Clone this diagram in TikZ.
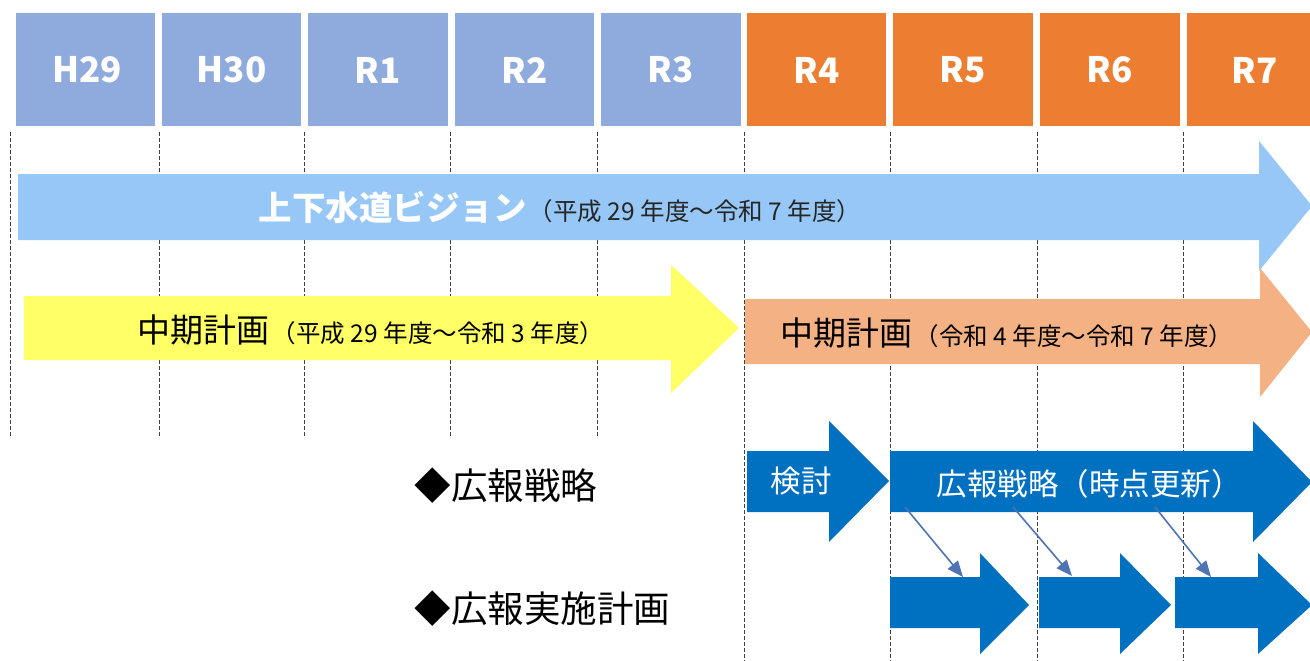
\documentclass[tikz,border=0pt]{standalone}
\usepackage{fontspec}
\setmainfont{Noto Sans CJK JP}
\usetikzlibrary{arrows.meta}
\definecolor{hdrblue}{HTML}{8FAADC}
\definecolor{hdrorange}{HTML}{ED7D31}
\definecolor{visionblue}{HTML}{97C7F7}
\definecolor{planyellow}{HTML}{FFFF66}
\definecolor{planorange}{HTML}{F4B183}
\definecolor{prblue}{HTML}{0070C0}
\definecolor{connblue}{HTML}{4F73B3}
\definecolor{gridgray}{HTML}{404040}
\newcommand{\bigarrow}[9]{\fill[#1] (#2,#5) -- (#3,#5) -- (#3,#7) -- (#4,#9) -- (#3,#8) -- (#3,#6) -- (#2,#6) -- cycle;}
\tikzset{
  hdr/.style={text=white, font=\fontsize{35}{38}\selectfont\bfseries},
  gridline/.style={draw=gridgray, line width=1pt, dash pattern=on 4pt off 2pt},
  intext/.style={text=white, font=\fontsize{30.5}{34}\selectfont},
  label/.style={text=black, font=\fontsize{36.5}{40}\selectfont, anchor=west},
  conn/.style={draw=connblue, line width=1.6pt, -{Triangle[length=16pt,width=13pt]}},
}
\begin{document}
\begin{tikzpicture}[x=1pt,y=-1pt]
\useasboundingbox (0,0) rectangle (1310,661);
\fill[white] (0,0) rectangle (1310,661);
% header boxes
\foreach \xa/\xb/\c in {16/155/hdrblue, 162/301/hdrblue, 308/448/hdrblue, 455/594/hdrblue, 601/741/hdrblue, 747/886/hdrorange, 893/1033/hdrorange, 1040/1180/hdrorange, 1187/1325/hdrorange}{
  \fill[\c] (\xa,13) rectangle (\xb,126);
}
\node[hdr] (t1) at (87,70) {H29};
\node[hdr] (t2) at (231.5,70) {H30};
\node[hdr] (t3) at (378,70) {R1};
\node[hdr] (t4) at (524.5,70) {R2};
\node[hdr] (t5) at (671,70) {R3};
\node[hdr] (t6) at (816.5,70) {R4};
\node[hdr] (t7) at (963,70) {R5};
\node[hdr] (t8) at (1110,70) {R6};
\node[hdr] (t9) at (1255,70) {R7};
% grid lines
\foreach \x in {10,159,304,450,597}{\draw[gridline] (\x,132) -- (\x,438);}
\foreach \x in {744,890,1037,1183}{\draw[gridline] (\x,132) -- (\x,661);}
% vision arrow
\bigarrow{visionblue}{18}{1259}{1312}{174}{240}{141}{271}{206}
\node (vision) at (560,207) {\textcolor{white}{\fontsize{33.5}{36}\selectfont\bfseries 上下水道ビジョン}\hspace{2pt}\textcolor{black!85}{\fontsize{24.5}{27}\selectfont （平成 29 年度～令和 7 年度）}};
% mid-term plans
\bigarrow{planyellow}{24}{671}{739}{296}{360}{265}{393}{328}
\node (plan1) at (371,330) {{\fontsize{33}{36}\selectfont 中期計画}\hspace{2pt}{\fontsize{24.5}{27}\selectfont （平成 29 年度～令和 3 年度）}};
\bigarrow{planorange}{745}{1260}{1312}{299}{364}{268}{397}{332}
\node (plan2) at (1007,333) {{\fontsize{33}{36}\selectfont 中期計画}\hspace{2pt}{\fontsize{24.5}{27}\selectfont （令和 4 年度～令和 7 年度）}};
% PR strategy
\bigarrow{prblue}{747}{829}{889}{451}{512}{421}{542}{481}
\node[intext] (kento) at (801,481) {検討};
\bigarrow{prblue}{890}{1253}{1312}{451}{512}{421}{542}{482}
\node[intext] (senryaku) at (1089,484) {広報戦略（時点更新）};
% PR implementation plans
\bigarrow{prblue}{890}{980}{1029}{577}{628}{553}{654}{605}
\bigarrow{prblue}{1039}{1120}{1171}{577}{628}{553}{654}{605}
\bigarrow{prblue}{1175}{1258}{1312}{577}{628}{553}{654}{605}
% connectors
\coordinate (c1s) at (905,507);
\coordinate (c1e) at (963,577);
\coordinate (c2s) at (1013,507);
\coordinate (c2e) at (1072,576);
\coordinate (c3s) at (1155,507);
\coordinate (c3e) at (1211,577);
\draw[conn] (c1s) -- (c1e);
\draw[conn] (c2s) -- (c2e);
\draw[conn] (c3s) -- (c3e);
% labels
\node[label] (lab1) at (411,486) {◆広報戦略};
\node[label] (lab2) at (411,609) {◆広報実施計画};
\end{tikzpicture}
\end{document}
